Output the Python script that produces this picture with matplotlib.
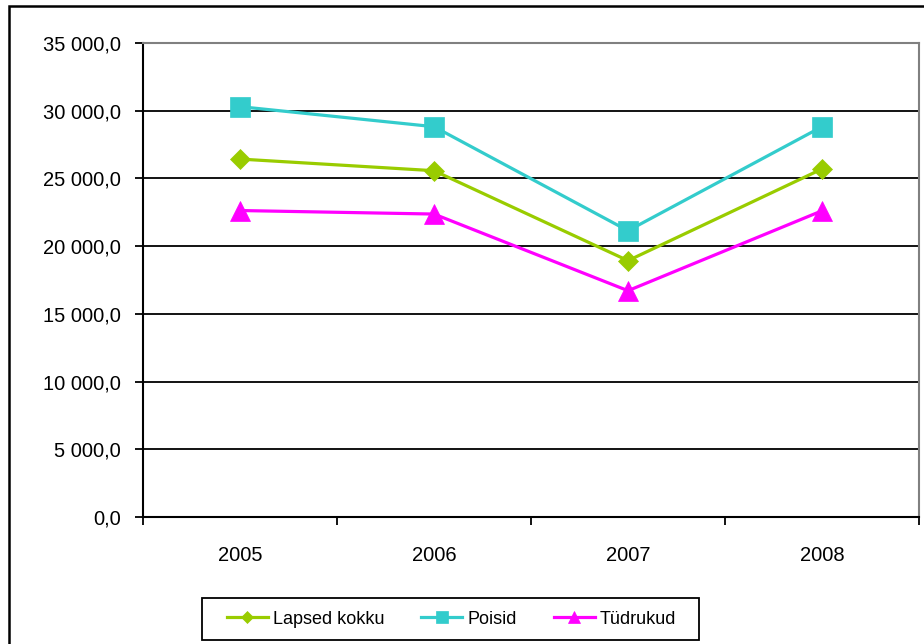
import matplotlib
matplotlib.use("Agg")
import matplotlib.pyplot as plt
from matplotlib.ticker import FuncFormatter, FixedLocator
from matplotlib.patches import Rectangle

plt.rcParams['font.family'] = ['Liberation Sans', 'DejaVu Sans']

years = ["2005", "2006", "2007", "2008"]
lapsed_kokku = [26430, 25570, 18930, 25700]
poisid = [30300, 28820, 21140, 28820]
tudrukud = [22630, 22370, 16710, 22610]

series_names = ["Lapsed kokku", "Poisid", "Tüdrukud"]
colors = ["#99CC00", "#33CCCC", "#FF00FF"]

W, H = 924, 644
fig = plt.figure(figsize=(W / 100, H / 100), dpi=100)
ax = fig.add_axes([143 / W, 1 - 517 / H, (919 - 143) / W, (517 - 43) / H])

x = list(range(len(years)))
ax.plot(x, lapsed_kokku, color=colors[0], lw=2.3, marker="D", ms=10.5,
        mec=colors[0], mew=0.5, label=series_names[0], zorder=3)
ax.plot(x, poisid, color=colors[1], lw=2.3, marker="s", ms=14,
        mec=colors[1], mew=0.5, label=series_names[1], zorder=3)
ax.plot(x, tudrukud, color=colors[2], lw=2.3, marker="^", ms=15,
        mec=colors[2], mew=0.5, label=series_names[2], zorder=3)

ax.set_xlim(-0.5, 3.5)
ax.set_ylim(0, 35000)
ax.set_yticks(range(0, 35001, 5000))
ax.yaxis.set_major_formatter(FuncFormatter(
    lambda v, p: f"{v:,.1f}".replace(",", " ").replace(".", ",")))
ax.set_xticks(x)
ax.set_xticklabels(years)
ax.xaxis.set_minor_locator(FixedLocator([-0.5, 0.5, 1.5, 2.5, 3.5]))
ax.tick_params(axis="x", which="major", length=0, pad=21, labelsize=14.5)
ax.tick_params(axis="x", which="minor", length=6, width=1.3, direction="out")
ax.tick_params(axis="y", which="major", length=6, width=1.3, direction="out",
               pad=10, labelsize=14.5)

ax.grid(axis="y", color="black", lw=1.3, zorder=1)
ax.set_axisbelow(True)
for s in ("left", "bottom"):
    ax.spines[s].set_color("black")
    ax.spines[s].set_linewidth(1.5)
for s in ("top", "right"):
    ax.spines[s].set_color("#808080")
    ax.spines[s].set_linewidth(1.5)

# legend box
bx0, bx1, by0, by1 = 202, 699, 598, 640
fig.patches.append(Rectangle((bx0 / W, 1 - by1 / H), (bx1 - bx0) / W, (by1 - by0) / H,
                             transform=fig.transFigure, fill=False, edgecolor="black",
                             lw=1.3, figure=fig))
leg = fig.legend(loc="center", bbox_to_anchor=((bx0 + bx1) / 2 / W + 1 / W, 1 - (by0 + by1) / 2 / H),
                 ncol=3, frameon=False, handlelength=2.27, handletextpad=0.28,
                 columnspacing=2.05, borderpad=0, markerscale=0.6,
                 prop={"size": 13})

# outer chart border
fig.patches.append(Rectangle((8.5 / W, -0.05), 1.1, 1 - 5.5 / H + 0.05, transform=fig.transFigure,
                             fill=False, edgecolor="black", lw=1.8, figure=fig))

fig.savefig("out.png", dpi=100)
